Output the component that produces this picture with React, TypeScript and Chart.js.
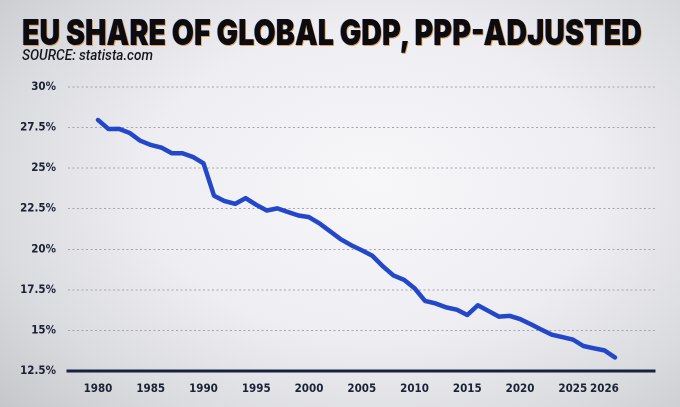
import React, { useEffect, useLayoutEffect, useRef } from "react";
import { Chart, registerables } from "chart.js";

Chart.register(...registerables);

// ---- data ----
const years = [
  1980, 1981, 1982, 1983, 1984, 1985, 1986, 1987, 1988, 1989,
  1990, 1991, 1992, 1993, 1994, 1995, 1996, 1997, 1998, 1999,
  2000, 2001, 2002, 2003, 2004, 2005, 2006, 2007, 2008, 2009,
  2010, 2011, 2012, 2013, 2014, 2015, 2016, 2017, 2018, 2019,
  2020, 2021, 2022, 2023, 2024, 2025, 2026, 2027, 2028, 2029,
];
const euShare = [
  27.97, 27.41, 27.42, 27.17, 26.69, 26.43, 26.27, 25.92, 25.92, 25.69,
  25.3, 23.3, 22.97, 22.8, 23.15, 22.74, 22.39, 22.52, 22.3, 22.08,
  21.98, 21.59, 21.11, 20.62, 20.25, 19.94, 19.6, 18.95, 18.39, 18.12,
  17.6, 16.82, 16.66, 16.42, 16.28, 15.95, 16.55, 16.2, 15.85, 15.9,
  15.7, 15.39, 15.06, 14.74, 14.59, 14.44, 14.04, 13.9, 13.77, 13.33,
];
const xTickYears = [1980, 1985, 1990, 1995, 2000, 2005, 2010, 2015, 2020, 2025, 2028];
const xTickLabels = ["1980", "1985", "1990", "1995", "2000", "2005", "2010", "2015", "2020", "2025", "2026"];
const yTickValues = [12.5, 15, 17.5, 20, 22.5, 25, 27.5, 30];
const yTickLabels = ["12.5%", "15%", "17.5%", "20%", "22.5%", "25%", "27.5%", "30%"];

const TITLE = "EU SHARE OF GLOBAL GDP, PPP-ADJUSTED";
const SUBTITLE = "SOURCE: statista.com";

const TICK_FONT = "'Liberation Sans Narrow', 'DejaVu Sans Condensed', 'Liberation Sans', sans-serif";

export default function App() {
  const canvasRef = useRef<HTMLCanvasElement | null>(null);
  const titleRef = useRef<HTMLSpanElement | null>(null);
  const subRef = useRef<HTMLSpanElement | null>(null);

  useLayoutEffect(() => {
    const fit = (el: HTMLSpanElement | null, target: number) => {
      if (!el) return;
      el.style.transform = "none";
      const w = el.getBoundingClientRect().width;
      if (w > 0) el.style.transform = `scaleX(${target / w})`;
    };
    fit(titleRef.current, 620);
    fit(subRef.current, 131);
  }, []);

  useEffect(() => {
    if (!canvasRef.current) return;
    const chart = new Chart(canvasRef.current, {
      type: "line",
      data: {
        datasets: [
          {
            data: years.map((y, i) => ({ x: y, y: euShare[i] })),
            borderColor: "#2347c9",
            borderWidth: 4.5,
            pointRadius: 0,
            tension: 0,
            borderJoinStyle: "round",
            borderCapStyle: "round",
            fill: false,
          },
        ],
      },
      options: {
        animation: false,
        responsive: false,
        devicePixelRatio: 2,
        layout: { padding: { top: 87, right: 25, left: 0, bottom: 0 } },
        plugins: { legend: { display: false }, tooltip: { enabled: false }, title: { display: false } },
        scales: {
          x: {
            type: "linear",
            min: 1977.16,
            max: 2032.79,
            afterBuildTicks: (scale: any) => {
              scale.ticks = xTickYears.map((v) => ({ value: v }));
            },
            afterFit: (scale: any) => {
              scale.height = 36;
            },
            ticks: {
              autoSkip: false,
              maxRotation: 0,
              padding: 11,
              color: "#1c2236",
              font: { family: TICK_FONT, size: 11.5, weight: "bold" },
              callback: (v: any) => {
                const i = xTickYears.indexOf(Number(v));
                return i >= 0 ? xTickLabels[i] : "";
              },
            },
            grid: { display: false, drawTicks: false },
            border: { display: true, color: "#17223f", width: 3 },
          },
          y: {
            min: 12.5,
            max: 30,
            afterBuildTicks: (scale: any) => {
              scale.ticks = yTickValues.map((v) => ({ value: v }));
            },
            afterFit: (scale: any) => {
              scale.width = 68;
            },
            ticks: {
              padding: 12,
              color: "#1c2236",
              font: { family: TICK_FONT, size: 11.5, weight: "bold" },
              callback: (v: any) => {
                const i = yTickValues.indexOf(Number(v));
                return i >= 0 ? yTickLabels[i] : "";
              },
            },
            grid: { color: "#a3a4ac", lineWidth: 1, drawTicks: false },
            border: { display: false, dash: [2, 2.5] },
          },
        },
      },
    } as any);
    return () => chart.destroy();
  }, []);

  return (
    <div
      style={{
        position: "fixed",
        left: 0,
        top: 0,
        width: 680,
        height: 407,
        overflow: "hidden",
        background:
          "radial-gradient(ellipse 75% 85% at 55% 45%, #f7f7fa 0%, #eeeef2 45%, #dadbdf 75%, #c4c5c9 100%)",
      }}
    >
      <canvas
        ref={canvasRef}
        width={680}
        height={407}
        style={{ position: "absolute", left: 0, top: 0, width: 680, height: 407 }}
      />
      <span
        ref={titleRef}
        style={{
          position: "absolute",
          left: 22,
          top: 13.5,
          whiteSpace: "nowrap",
          fontFamily: "Inter, 'Roboto', sans-serif",
          fontWeight: 900,
          fontSize: 36,
          lineHeight: 1,
          color: "#0b0b10",
          transformOrigin: "0 0",
          textShadow: "-0.7px 0 0 rgba(70,100,210,0.4), 1px 1px 0 #e0a050",
        }}
      >
        {TITLE}
      </span>
      <span
        ref={subRef}
        style={{
          position: "absolute",
          left: 22,
          top: 48,
          whiteSpace: "nowrap",
          fontFamily: "Roboto, 'Liberation Sans', sans-serif",
          fontStyle: "italic",
          fontWeight: 500,
          fontSize: 14,
          lineHeight: 1,
          color: "#15151c",
          transformOrigin: "0 0",
        }}
      >
        {SUBTITLE}
      </span>
    </div>
  );
}
